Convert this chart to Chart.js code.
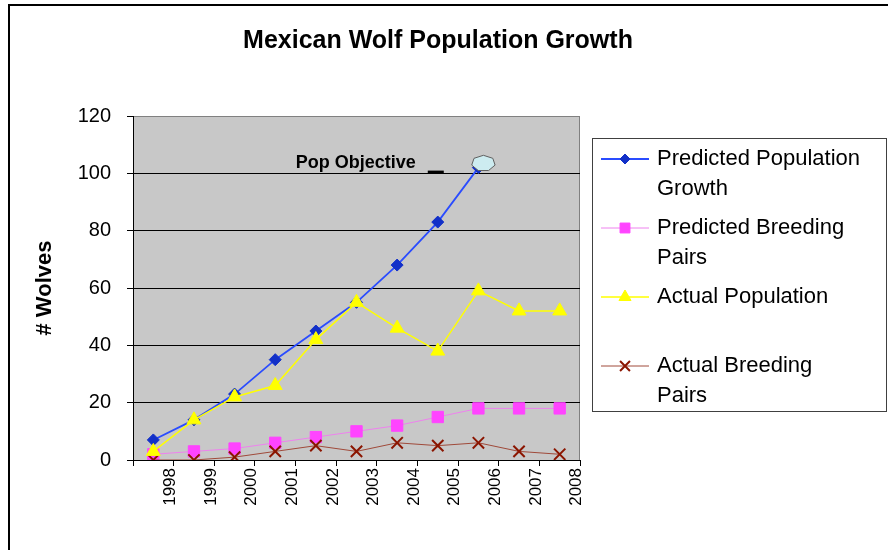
<!DOCTYPE html>
<html>
<head>
<meta charset="utf-8">
<script src="https://cdn.jsdelivr.net/npm/chart.js@4.4.1/dist/chart.umd.min.js"></script>
<style>
  html, body { margin: 0; padding: 0; background: #fff; }
  #wrap { position: relative; width: 888px; height: 550px; overflow: hidden; }
  #frame { position: absolute; left: 8px; top: 4px; width: 900px; height: 600px;
           border-top: 2px solid #000; border-left: 2px solid #000; }
  canvas { position: absolute; left: 0; top: 0; }
</style>
</head>
<body>
<div id="wrap">
  <div id="frame"></div>
  <canvas id="chart" width="888" height="550" style="width:888px;height:550px"></canvas>
</div>
<script>
const years = ['1998', '1999', '2000', '2001', '2002', '2003', '2004', '2005', '2006', '2007', '2008'];
const predictedPopulation = [7, 14, 23, 35, 45, 55, 68, 83, 102, null, null];
const predictedPairs = [2, 3, 4, 6, 8, 10, 12, 15, 18, 18, 18];
const actualPopulation = [3, 14, 22, 26, 42, 55, 46, 38, 59, 52, 52];
const actualPairs = [0, 0, 1, 3, 5, 3, 6, 5, 6, 3, 2];
const legendLines = [
  ['Predicted Population', 'Growth'],
  ['Predicted Breeding', 'Pairs'],
  ['Actual Population'],
  ['Actual Breeding', 'Pairs'],
];
const objectiveValue = 102;

Chart.defaults.font.family = '"Liberation Sans", Arial, sans-serif';
Chart.defaults.color = '#000';

const chartDecor = {
  id: 'chartDecor',
  beforeDraw(chart) {
    const { ctx, chartArea: a } = chart;
    ctx.save();
    ctx.fillStyle = '#c8c8c8';
    ctx.fillRect(a.left, a.top, a.right - a.left, a.bottom - a.top);
    ctx.strokeStyle = '#808080';
    ctx.lineWidth = 1;
    ctx.beginPath();
    ctx.moveTo(a.left, a.top + 0.5);
    ctx.lineTo(a.right - 0.5, a.top + 0.5);
    ctx.lineTo(a.right - 0.5, a.bottom);
    ctx.stroke();
    ctx.restore();
  },
  afterDraw(chart) {
    const { ctx } = chart;
    const xs = chart.scales.x, ys = chart.scales.y;
    ctx.save();

    // title
    ctx.fillStyle = '#000';
    ctx.font = 'bold 25px "Liberation Sans", Arial, sans-serif';
    ctx.textAlign = 'center';
    ctx.textBaseline = 'middle';
    ctx.fillText('Mexican Wolf Population Growth', 438, 41);

    // pop objective note
    const objY = ys.getPixelForValue(objectiveValue);
    ctx.font = 'bold 18px "Liberation Sans", Arial, sans-serif';
    ctx.textAlign = 'right';
    ctx.textBaseline = 'alphabetic';
    ctx.fillText('Pop Objective', xs.getPixelForValue(7) - 22, objY);
    ctx.fillRect(xs.getPixelForValue(7) - 10, objY + 3, 16, 3);

    // hexagon marker at end of predicted line
    const hx = xs.getPixelForValue(8) + 5, hy = ys.getPixelForValue(objectiveValue + 1.5);
    ctx.beginPath();
    for (let i = 0; i < 7; i++) {
      const t = -Math.PI / 2 + i * 2 * Math.PI / 7;
      const px = hx + 12 * Math.cos(t), py = hy + 8 * Math.sin(t);
      if (i === 0) ctx.moveTo(px, py); else ctx.lineTo(px, py);
    }
    ctx.closePath();
    ctx.fillStyle = '#cdecf0';
    ctx.fill();
    ctx.strokeStyle = '#606060';
    ctx.lineWidth = 1;
    ctx.stroke();

    // legend
    ctx.strokeStyle = '#404040';
    ctx.lineWidth = 1;
    ctx.strokeRect(592.5, 138.5, 294, 273);
    ctx.font = '22px "Liberation Sans", Arial, sans-serif';
    ctx.textAlign = 'left';
    ctx.textBaseline = 'middle';
    chart.data.datasets.forEach((ds, i) => {
      const y = 159 + 69 * i;
      ctx.strokeStyle = ds.borderColor;
      ctx.lineWidth = ds.borderWidth;
      ctx.beginPath();
      ctx.moveTo(601, y);
      ctx.lineTo(649, y);
      ctx.stroke();
      ctx.fillStyle = ds.pointBackgroundColor;
      ctx.strokeStyle = ds.pointBorderColor;
      ctx.lineWidth = ds.pointBorderWidth;
      Chart.helpers.drawPoint(ctx, { pointStyle: ds.pointStyle, radius: ds.pointRadius - 1, borderWidth: ds.pointBorderWidth, rotation: 0 }, 625, y);
      ctx.fillStyle = '#000';
      legendLines[i].forEach((line, j) => ctx.fillText(line, 657, y + 30 * j));
    });
    ctx.restore();
  },
};

new Chart(document.getElementById('chart'), {
  type: 'line',
  data: {
    labels: years,
    datasets: [
      {
        label: legendLines[0].join(' '),
        data: predictedPopulation,
        borderColor: '#2a4cff',
        borderWidth: 1.8,
        pointStyle: 'rectRot',
        pointRadius: 6,
        pointBackgroundColor: '#1230c8',
        pointBorderColor: '#1230c8',
        pointBorderWidth: 1,
        order: 1,
      },
      {
        label: legendLines[1].join(' '),
        data: predictedPairs,
        borderColor: '#ee82ee',
        borderWidth: 1,
        pointStyle: 'rect',
        pointRadius: 8,
        pointBackgroundColor: '#ff44ff',
        pointBorderColor: '#ff44ff',
        pointBorderWidth: 1,
        order: 3,
      },
      {
        label: legendLines[2].join(' '),
        data: actualPopulation,
        borderColor: '#ffff00',
        borderWidth: 1.5,
        pointStyle: 'triangle',
        pointRadius: 8,
        pointBackgroundColor: '#ffff00',
        pointBorderColor: '#ffff00',
        pointBorderWidth: 1,
        order: 0,
      },
      {
        label: legendLines[3].join(' '),
        data: actualPairs,
        borderColor: '#a04a3a',
        borderWidth: 1,
        pointStyle: 'crossRot',
        pointRadius: 8,
        pointBackgroundColor: '#8b1500',
        pointBorderColor: '#8b1500',
        pointBorderWidth: 2,
        order: 2,
      },
    ],
  },
  options: {
    responsive: false,
    animation: false,
    layout: { padding: { top: 116, right: 308, bottom: 0, left: 0 } },
    elements: { line: { tension: 0 } },
    plugins: { legend: { display: false }, tooltip: { enabled: false } },
    scales: {
      x: {
        offset: true,
        grid: { offset: true, drawOnChartArea: false, color: '#000', tickLength: 6 },
        border: { color: '#000', width: 1 },
        ticks: { font: { size: 17 }, minRotation: 90, maxRotation: 90, labelOffset: 17, padding: 2, autoSkip: false },
        afterFit(scale) { scale.height = 90; },
      },
      y: {
        min: 0,
        max: 120,
        grid: {
          color: ctx => (ctx.tick && ctx.tick.value === 120 ? '#808080' : '#000'),
          tickColor: '#000',
          tickLength: 6,
        },
        border: { color: '#000', width: 1 },
        ticks: { stepSize: 20, font: { size: 20 }, padding: 16 },
        title: { display: true, text: '# Wolves', font: { size: 22, weight: 'bold' }, padding: { top: 32, bottom: 0 } },
        afterFit(scale) { scale.width = 133; },
      },
    },
  },
  plugins: [chartDecor],
});
</script>
</body>
</html>
